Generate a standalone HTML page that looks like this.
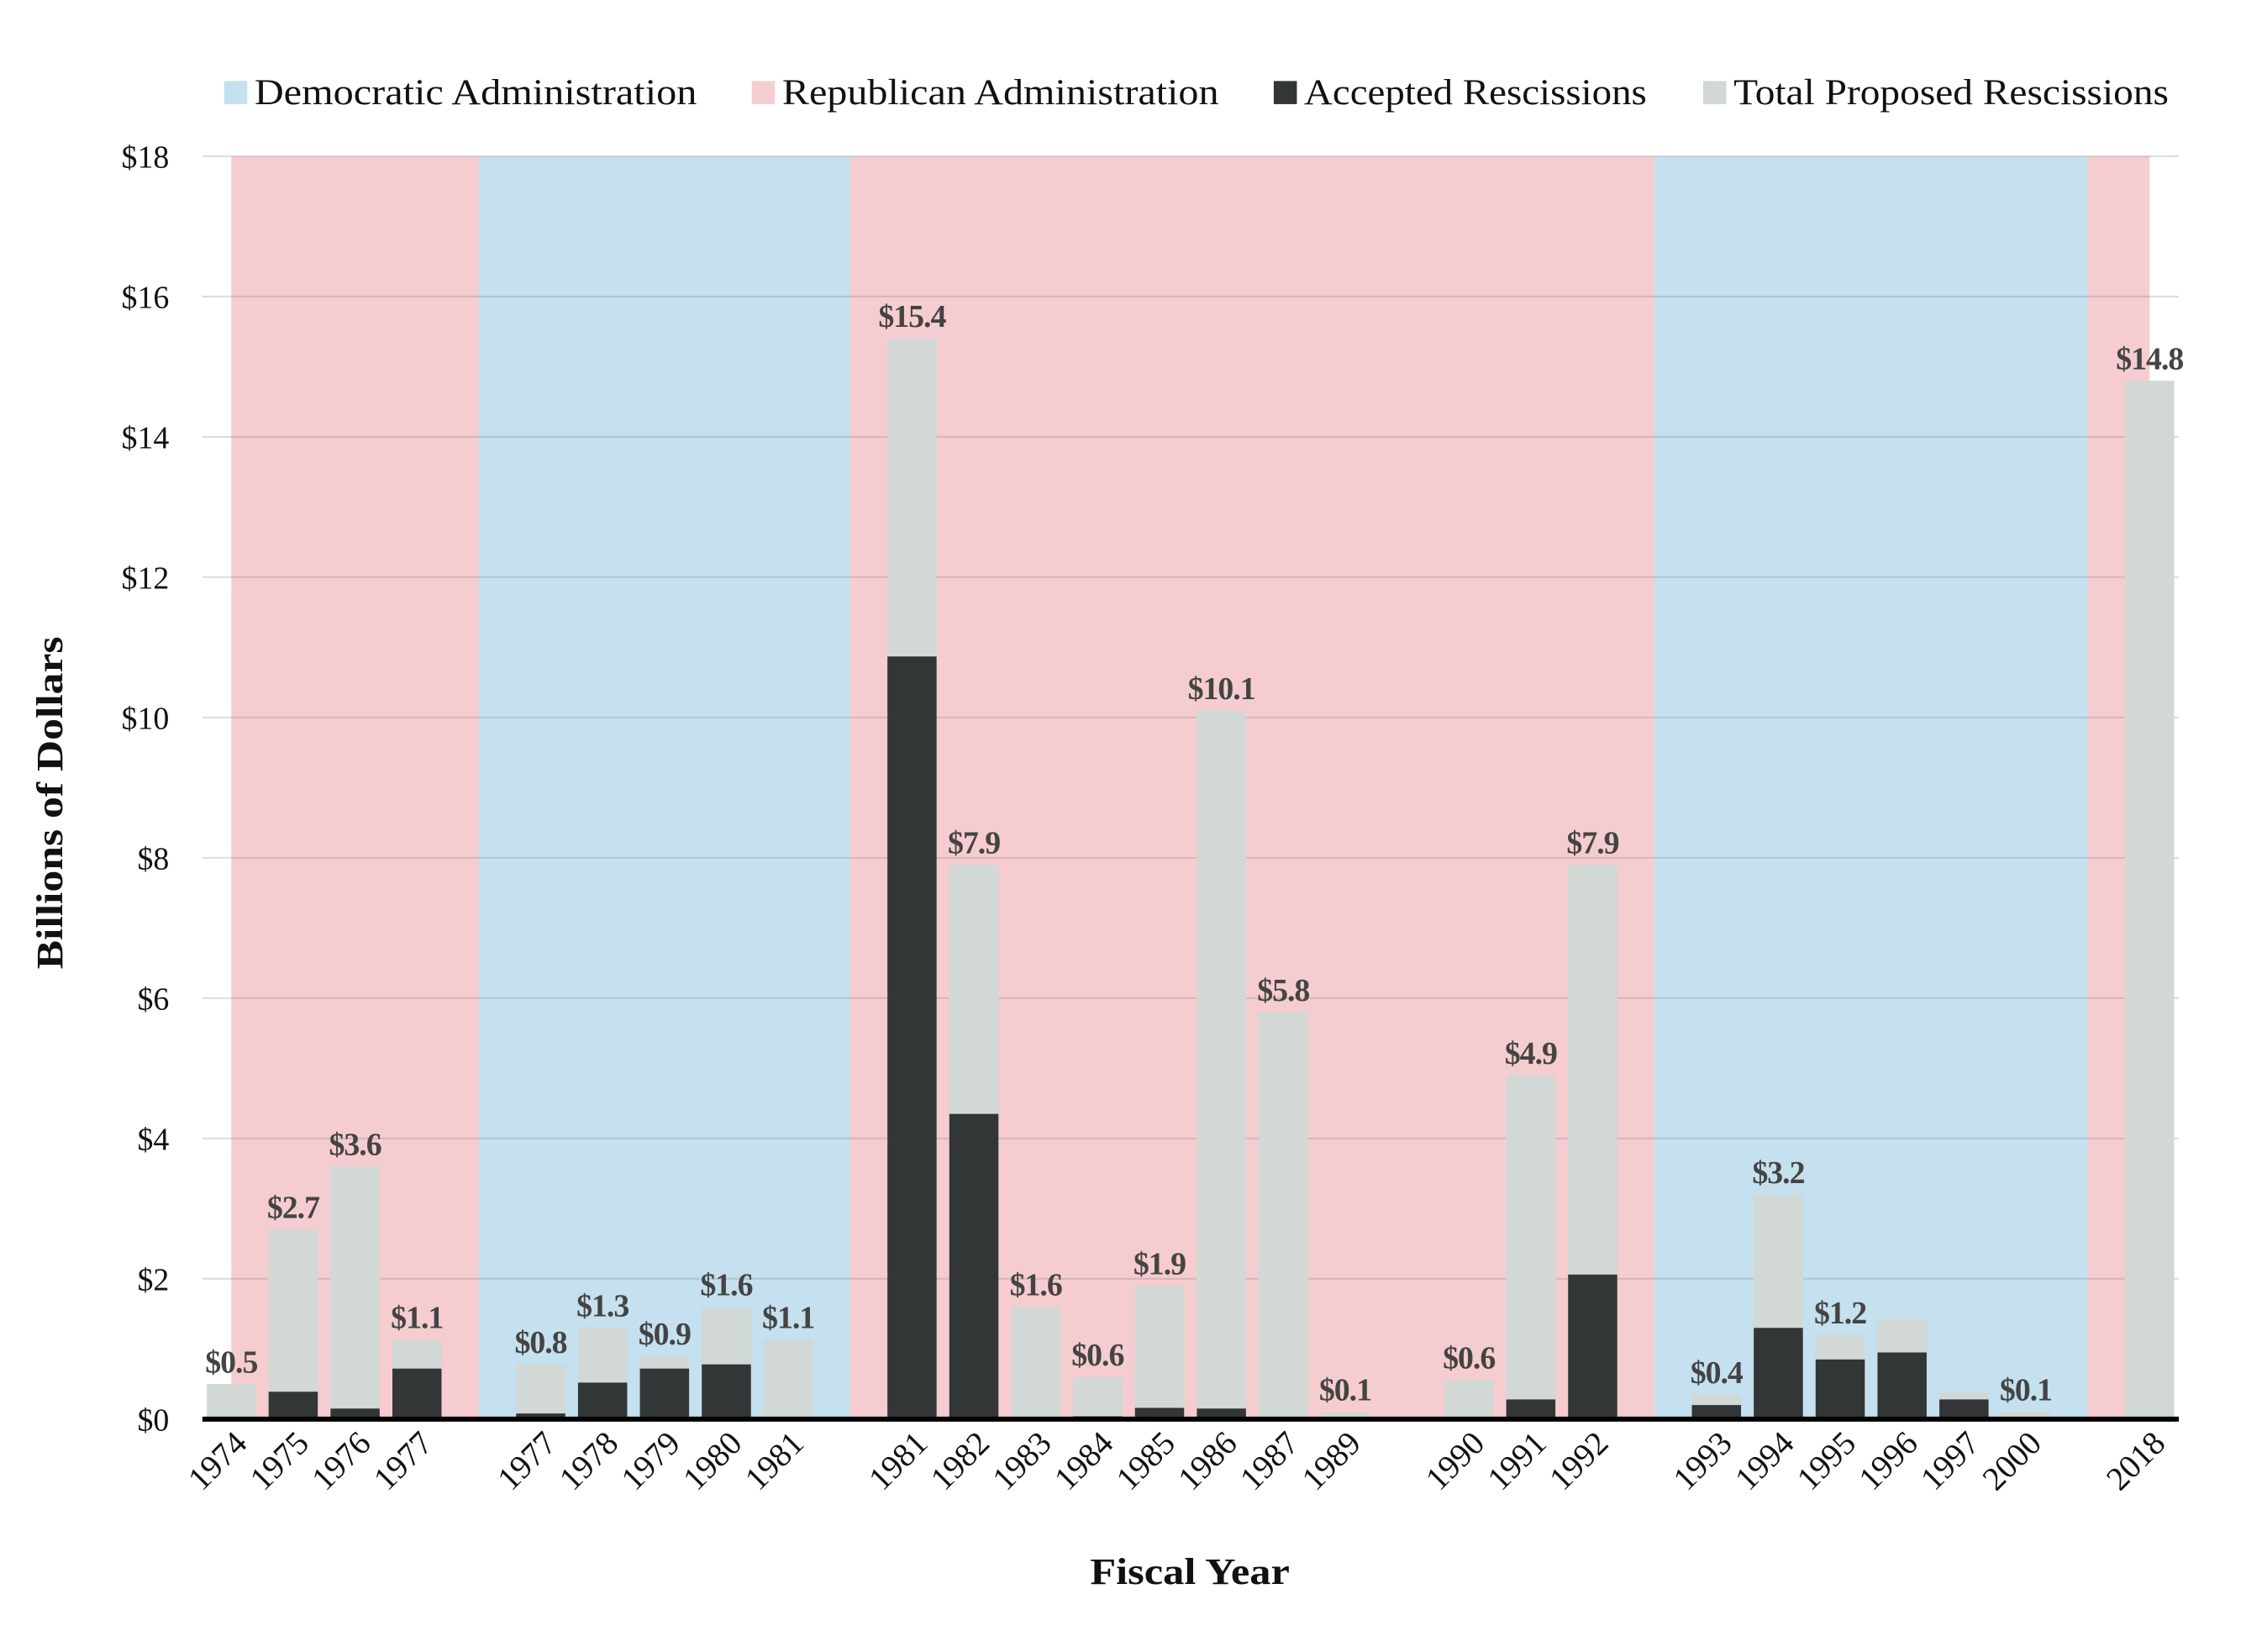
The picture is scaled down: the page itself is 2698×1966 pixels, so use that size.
<!DOCTYPE html>
<html><head><meta charset="utf-8">
<style>
html,body{margin:0;padding:0;background:#fff;}
svg{display:block;}
text{font-family:"Liberation Serif",serif;}
</style></head>
<body>
<svg id="chart" width="2698" height="1966" viewBox="0 0 1568 1142" preserveAspectRatio="none" xmlns="http://www.w3.org/2000/svg">
  <g font-size="25" fill="#111">
    <rect x="155" y="56" width="16" height="16" fill="#c5e0ee"/>
    <text x="176" y="72" textLength="306" lengthAdjust="spacingAndGlyphs">Democratic Administration</text>
    <rect x="520" y="56" width="16" height="16" fill="#f5cdd0"/>
    <text x="541" y="72" textLength="302" lengthAdjust="spacingAndGlyphs">Republican Administration</text>
    <rect x="881" y="56" width="16" height="16" fill="#323637"/>
    <text x="902" y="72" textLength="237" lengthAdjust="spacingAndGlyphs">Accepted Rescissions</text>
    <rect x="1178" y="56" width="16" height="16" fill="#d1d8d5"/>
    <text x="1199" y="72" textLength="301" lengthAdjust="spacingAndGlyphs">Total Proposed Rescissions</text>
  </g>
  <g id="bands"></g>
  <g id="grid"></g>
  <g id="bars"></g>
  <g id="labels"></g>
  <g id="xticks"></g>
  <g id="yticks"></g>
  <line x1="140" x2="1507" y1="981" y2="981" stroke="#000" stroke-width="3.5"/>
  <text transform="translate(43,555) rotate(-90)" text-anchor="middle" font-size="26" font-weight="bold" fill="#111" textLength="230" lengthAdjust="spacingAndGlyphs">Billions of Dollars</text>
  <text x="823" y="1095" text-anchor="middle" font-size="26" font-weight="bold" fill="#111" textLength="138" lengthAdjust="spacingAndGlyphs">Fiscal Year</text>
</svg>
<script>
const categories = ["1974","1975","1976","1977","1977","1978","1979","1980","1981","1981","1982","1983","1984","1985","1986","1987","1989","1990","1991","1992","1993","1994","1995","1996","1997","2000","2018"];
const slots = [0,1,2,3,5,6,7,8,9,11,12,13,14,15,16,17,18,20,21,22,24,25,26,27,28,29,31];
const proposed = [0.5,2.7,3.6,1.13,0.78,1.3,0.9,1.6,1.13,15.4,7.9,1.6,0.6,1.9,10.1,5.8,0.1,0.56,4.9,7.9,0.35,3.2,1.2,1.42,0.38,0.1,14.8];
const accepted = [0,0.39,0.15,0.72,0.08,0.52,0.72,0.78,0,10.87,4.35,0,0.04,0.16,0.15,0,0,0,0.28,2.06,0.2,1.3,0.85,0.95,0.28,0,0];
const valueLabels = ["$0.5","$2.7","$3.6","$1.1","$0.8","$1.3","$0.9","$1.6","$1.1","$15.4","$7.9","$1.6","$0.6","$1.9","$10.1","$5.8","$0.1","$0.6","$4.9","$7.9","$0.4","$3.2","$1.2","","","$0.1","$14.8"];
const bandStartSlots = [0,4,10,23,30];
const bandEndSlots = [4,10,23,30,31];
const bandParty = ["R","D","R","D","R"];
const yTicks = [0,2,4,6,8,10,12,14,16,18];
const yTickLabels = ["$0","$2","$4","$6","$8","$10","$12","$14","$16","$18"];

const NS="http://www.w3.org/2000/svg";
const y0=981, y1=108, yMax=18;
const y = v => y0 - (v/yMax)*(y0-y1);
const x = s => 160 + s*42.8;
const bw = 34;
function mk(tag, parent, attrs){const e=document.createElementNS(NS,tag);for(const k in attrs)e.setAttribute(k,attrs[k]);parent.appendChild(e);return e;}

const bands=document.getElementById('bands');
bandStartSlots.forEach((s,i)=>{
  const r=mk('rect',bands,{x:x(s),y:y1,width:x(bandEndSlots[i])-x(s),height:y0-y1,fill:bandParty[i]==='R'?'#f5cdd0':'#c5e0ee'});
  
  
});
const grid=document.getElementById('grid'), yt=document.getElementById('yticks');
yTicks.forEach((v,i)=>{
  if(v>0){const l=mk('line',grid,{x1:140,x2:1507,y1:y(v),y2:y(v),stroke:'rgba(120,120,120,0.25)','stroke-width':1.2});
  
  }
  const t=mk('text',yt,{x:117,y:y(v)+8,'text-anchor':'end','font-size':22,fill:'#111'});
  t.textContent=yTickLabels[i];
  
  
});
const bars=document.getElementById('bars'), lab=document.getElementById('labels'), xt=document.getElementById('xticks');
categories.forEach((c,i)=>{
  const cx=x(slots[i]);
  const p=mk('rect',bars,{x:cx-bw/2,y:y(proposed[i]),width:bw,height:y0-y(proposed[i]),fill:'#d1d8d5'});
  
  
  if(accepted[i]>0){
    const a=mk('rect',bars,{x:cx-bw/2,y:y(accepted[i]),width:bw,height:y0-y(accepted[i]),fill:'#323637'});
    
    
  }
  if(valueLabels[i]){
    const t=mk('text',lab,{x:cx,y:y(proposed[i])-8,'text-anchor':'middle','font-size':22,'font-weight':'bold',fill:'#444','letter-spacing':'-0.6'});
    t.textContent=valueLabels[i];
    
    
  }
  const xl=mk('text',xt,{transform:`translate(${cx+12},${999}) rotate(-45)`,'text-anchor':'end','font-size':23,fill:'#111'});
  xl.textContent=c;
  
  
});
</script>
</body></html>
